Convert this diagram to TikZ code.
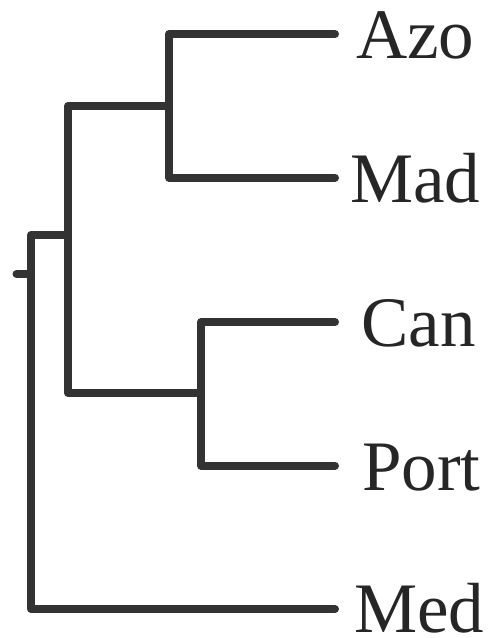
\documentclass[tikz,border=0pt]{standalone}
\usepackage{fontspec}
\setmainfont{Liberation Serif}
\begin{document}
\begin{tikzpicture}[x=1pt,y=-1pt,
  branch/.style={draw=black!80, line width=8pt, line cap=round, line join=round},
  taxon/.style={anchor=base west, inner sep=0pt, text=black!85,
    font=\fontsize{71}{71}\selectfont}]
\useasboundingbox (0,0) rectangle (488,638);

% internal nodes (vertical bar x, incoming branch y)
\coordinate (stub) at (16.5,274);
\coordinate (root) at (31,274);
\coordinate (ABCP) at (68,235);
\coordinate (AM)   at (169,106);
\coordinate (CP)   at (201,393);

% branch tips
\coordinate (tAzo)  at (335,34);
\coordinate (tMad)  at (335,177.5);
\coordinate (tCan)  at (335,322);
\coordinate (tPort) at (335,465.5);
\coordinate (tMed)  at (335,609);

% tree
\draw[branch] (stub) -- (root);
\draw[branch] (root) |- (ABCP);
\draw[branch] (root) |- (tMed);
\draw[branch] (ABCP) |- (AM);
\draw[branch] (ABCP) |- (CP);
\draw[branch] (AM) |- (tAzo);
\draw[branch] (AM) |- (tMad);
\draw[branch] (CP) |- (tCan);
\draw[branch] (CP) |- (tPort);

% labels
\node[taxon] (Azo)  at (356,58.5) {Azo};
\node[taxon] (Mad)  at (350,202)  {Mad};
\node[taxon] (Can)  at (361,346)  {Can};
\node[taxon] (Port) at (362,490)  {Port};
\node[taxon] (Med)  at (354,632)  {Med};
\end{tikzpicture}
\end{document}
